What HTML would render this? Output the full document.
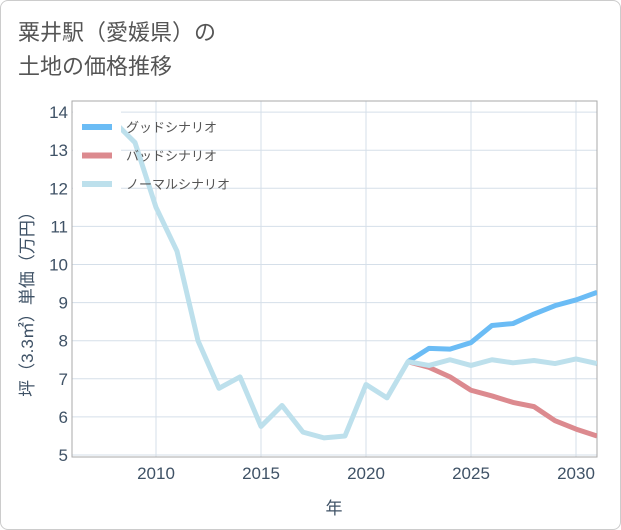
<!DOCTYPE html>
<html><head><meta charset="utf-8"><style>
body{margin:0;background:#fff;font-family:"Liberation Sans","Noto Sans CJK JP",sans-serif;}
#card{position:absolute;left:0;top:0;width:619px;height:528px;border:1px solid #ccc;border-radius:8px;}
#title{position:absolute;left:18px;top:16px;font-size:22px;line-height:34px;color:#555;}
</style></head><body>
<div id="card"></div>
<div id="title">粟井駅（愛媛県）の<br>土地の価格推移</div>
<svg id="chart" width="621" height="530" style="position:absolute;left:0;top:0"></svg>
<script>
const years=[2008,2009,2010,2011,2012,2013,2014,2015,2016,2017,2018,2019,2020,2021,2022,2023,2024,2025,2026,2027,2028,2029,2030,2031];
const normal=[13.75,13.2,11.5,10.35,8.0,6.75,7.05,5.75,6.3,5.6,5.45,5.5,6.85,6.5,7.45,7.35,7.5,7.35,7.5,7.42,7.48,7.4,7.52,7.4];
const fYears=[2022,2023,2024,2025,2026,2027,2028,2029,2030,2031];
const good=[7.45,7.8,7.78,7.95,8.4,8.45,8.7,8.92,9.07,9.27];
const bad=[7.45,7.3,7.05,6.7,6.55,6.38,6.27,5.9,5.68,5.5];
const yTicks=[5,6,7,8,9,10,11,12,13,14];
const xTicks=[2010,2015,2020,2025,2030];
const L=72,R=597,T=101,B=457;
const x=v=>156+(v-2010)*21;
const y=v=>455-(v-5)*38.1;
const svg=document.getElementById('chart');
const NS='http://www.w3.org/2000/svg';
function mk(t,a,p){const e=document.createElementNS(NS,t);for(const k in a)e.setAttribute(k,a[k]);(p||svg).appendChild(e);return e;}
const defs=mk('defs',{});const cp=mk('clipPath',{id:'c'},defs);mk('rect',{x:L,y:T,width:R-L,height:B-T},cp);
yTicks.forEach(v=>{const g=mk('line',{x1:L,x2:R,y1:y(v),y2:y(v),stroke:'#d5dfe9','stroke-width':1});

const t=mk('text',{x:L-4,y:y(v)+6,'text-anchor':'end','font-size':17,fill:'#3f5266'});t.textContent=v;
});
xTicks.forEach(v=>{const g=mk('line',{x1:x(v),x2:x(v),y1:T,y2:B,stroke:'#d5dfe9','stroke-width':1});

const t=mk('text',{x:x(v),y:B+22,'text-anchor':'middle','font-size':17,fill:'#3f5266'});t.textContent=v;
});
const fr=mk('rect',{x:L,y:T,width:R-L,height:B-T,fill:'none',stroke:'#aaa','stroke-width':1});

function line(xs,vs,c,n){const p=mk('polyline',{points:xs.map((v,i)=>x(v)+','+y(vs[i])).join(' '),fill:'none',stroke:c,'stroke-width':5,'stroke-linejoin':'round','clip-path':'url(#c)'});
}
line(fYears,bad,'#dc8a8f','bad-scenario-line');
line(fYears,good,'#6bbcf5','good-scenario-line');
line(years,normal,'#bde0ec','normal-scenario-line');
const lb=mk('rect',{x:73,y:104,width:48,height:92,fill:'#fff'});

const leg=[['グッドシナリオ','#6bbcf5'],['バッドシナリオ','#dc8a8f'],['ノーマルシナリオ','#bde0ec']];
leg.forEach((l,i)=>{const yy=127+i*28.5;
const r=mk('rect',{x:82,y:yy-3,width:30,height:6,fill:l[1]});
const t=mk('text',{x:126,y:yy+5,'font-size':13,fill:'#555'});t.textContent=l[0];});
const yt=mk('text',{transform:'translate(33,300) rotate(-90)','text-anchor':'middle','font-size':17,fill:'#3f5266'});yt.textContent='坪（3.3㎡）単価（万円）';

const xt=mk('text',{x:334,y:514,'text-anchor':'middle','font-size':17,fill:'#3f5266'});xt.textContent='年';

</script>
</body></html>
